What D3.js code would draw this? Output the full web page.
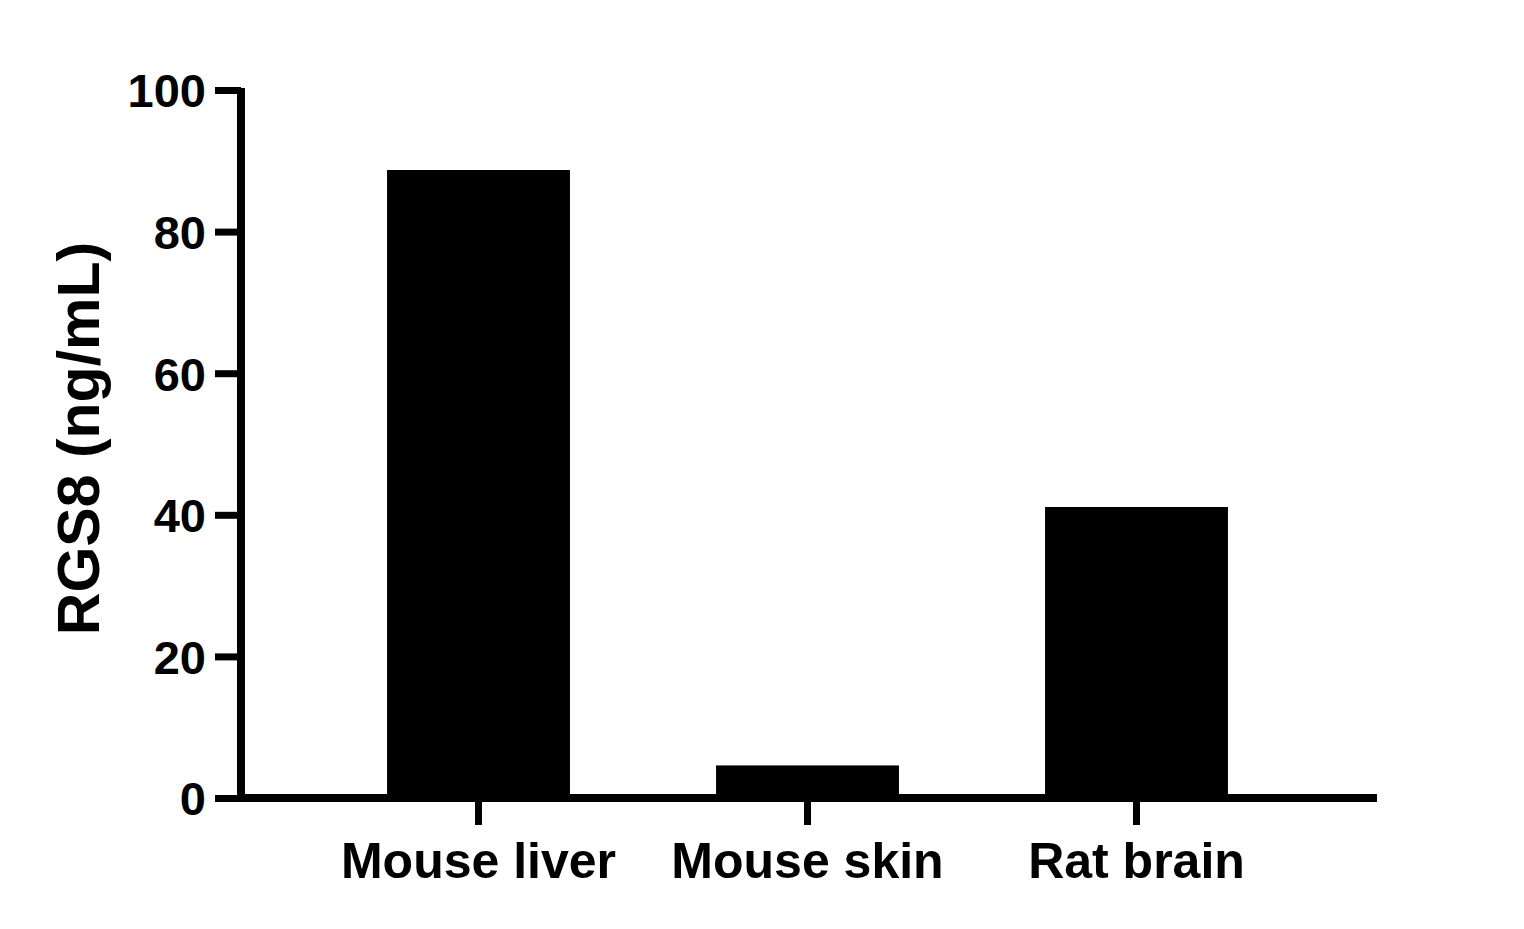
<!DOCTYPE html>
<html>
<head>
<meta charset="utf-8">
<script src="https://cdn.jsdelivr.net/npm/d3@7"></script>
<style>
  body { margin: 0; background: #fff; }
  svg text { font-family: "Liberation Sans", Arial, sans-serif; font-weight: bold; fill: #000; }
</style>
</head>
<body>
<div id="chart"></div>
<script>
const categories = ['Mouse liver', 'Mouse skin', 'Rat brain'];
const values = [88.7, 4.6, 41.1];
const yTicks = [0, 20, 40, 60, 80, 100];
const yLabel = 'RGS8 (ng/mL)';

const width = 1524, height = 929;
const axisLeft = 241, axisRight = 1377;
const yZero = 798, yTop = 90;

const svg = d3.select('#chart')
  .append('svg')
  .attr('width', width)
  .attr('height', height);

const x = d3.scaleBand()
  .domain(categories)
  .range([314, 1301])
  .paddingInner(0.444)
  .paddingOuter(0.222);

const y = d3.scaleLinear()
  .domain([0, 100])
  .range([yZero, yTop]);

// bars
svg.selectAll('.bar')
  .data(values)
  .join('rect')
  .attr('class', 'bar')
  .attr('x', (d, i) => x(categories[i]))
  .attr('width', x.bandwidth())
  .attr('y', d => y(d))
  .attr('height', d => y(0) - y(d))
  .attr('fill', '#000');

// y axis
const yAxis = svg.append('g')
  .attr('transform', `translate(${axisLeft},0)`)
  .call(d3.axisLeft(y).tickValues(yTicks).tickSize(26).tickPadding(10).tickFormat(d3.format('d')));
yAxis.select('.domain')
  .attr('d', `M0,${yTop - 2}V${yZero}`)
  .attr('stroke', '#000')
  .attr('stroke-width', 8);
yAxis.selectAll('.tick line').attr('stroke', '#000').attr('stroke-width', 7);
yAxis.selectAll('.tick text')
  .style('font-size', '47px')
  .attr('dy', '0.36em')
  .attr('x', -35);

// x axis
const xAxis = svg.append('g')
  .attr('transform', `translate(0,${yZero})`)
  .call(d3.axisBottom(x).tickSize(27).tickPadding(20));
xAxis.select('.domain')
  .attr('d', `M${axisLeft - 4},0H${axisRight}`)
  .attr('stroke', '#000')
  .attr('stroke-width', 8);
xAxis.selectAll('.tick line').attr('stroke', '#000').attr('stroke-width', 7);
xAxis.selectAll('.tick text')
  .style('font-size', '50px')
  .attr('dy', '0.71em')
  .attr('y', 44);

// y label
svg.append('text')
  .attr('transform', `translate(99,${(245 + 632) / 2}) rotate(-90)`)
  .style('text-anchor', 'middle')
  .style('font-size', '59px')
  .text(yLabel);
</script>
</body>
</html>
